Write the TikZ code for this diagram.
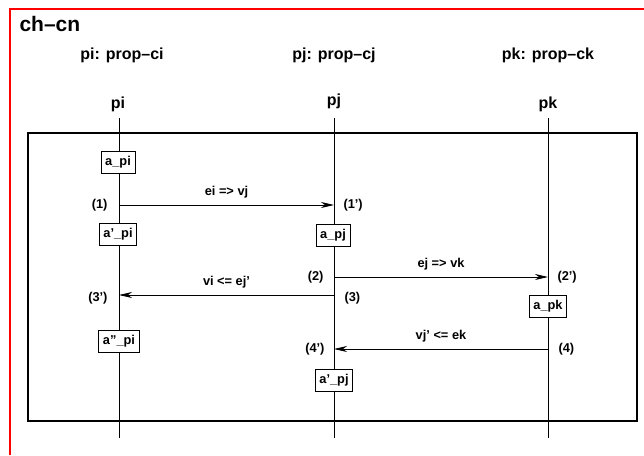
\documentclass[tikz,border=0pt]{standalone}
\usepackage{fontspec}
\setmainfont{Liberation Sans}
\usetikzlibrary{arrows.meta}
\begin{document}
\begin{tikzpicture}[x=1pt,y=-1pt,
  every node/.style={font=\bfseries},
  title/.style={font=\fontsize{21}{24}\selectfont\bfseries, anchor=west},
  header/.style={font=\fontsize{16}{18}\selectfont\bfseries},
  lbl/.style={font=\fontsize{12.8}{14}\selectfont\bfseries},
  actbox/.style={draw, fill=white, line width=0.8pt, inner xsep=4.2pt, inner ysep=3pt,
    minimum height=22pt, font=\fontsize{12.8}{14}\selectfont\bfseries},
  lifeline/.style={line width=0.8pt},
  msg/.style={line width=0.8pt, -{Stealth[length=13pt,width=6pt,inset=4pt]}},
  frame/.style={line width=2.5pt},
  outer/.style={red, line width=2pt}]
\useasboundingbox (0,0) rectangle (644,455);

% outer red frame (open on the right and bottom)
\draw[outer] (10,455) -- (10,9) -- (646,9);
\node[title] (ttl) at (16,24) {ch–cn};

% process headers
\node[header] (hi) at (122,55) {pi: prop–ci};
\node[header] (hj) at (334,55) {pj: prop–cj};
\node[header] (hk) at (548,55) {pk: prop–ck};
\node[header] (ni) at (118,104) {pi};
\node[header] (nj) at (334,101) {pj};
\node[header] (nk) at (548,104) {pk};

% lifelines
\coordinate (ti) at (119,118); \coordinate (bi) at (119,438);
\coordinate (tj) at (334,118); \coordinate (bj) at (334,438);
\coordinate (tk) at (548,118); \coordinate (bk) at (548,438);
\draw[lifeline] (ti) -- (bi);
\draw[lifeline] (tj) -- (bj);
\draw[lifeline] (tk) -- (bk);

% enclosing frame
\draw[frame] (28,133) rectangle (637,421);

% activity boxes
\node[actbox] (api)  at (118,162.5) {a\_pi};
\node[actbox] (ap2i) at (118,234) {a’\_pi};
\node[actbox] (apj)  at (333,235) {a\_pj};
\node[actbox] (apk)  at (548,306.5) {a\_pk};
\node[actbox] (ap3i) at (119,341) {a”\_pi};
\node[actbox] (ap2j) at (334,380) {a’\_pj};

% message end points on the lifelines
\coordinate (m1s) at (119,205); \coordinate (m1e) at (334,205);
\coordinate (m2s) at (334,277); \coordinate (m2e) at (548,277);
\coordinate (m3s) at (334,295); \coordinate (m3e) at (119,295);
\coordinate (m4s) at (548,349); \coordinate (m4e) at (334,349);

% messages
\draw[msg] (m1s) -- node[lbl, above=3pt] {ei => vj} (m1e);
\draw[msg] (m2s) -- node[lbl, above=3pt] {ej => vk} (m2e);
\draw[msg] (m3s) -- node[lbl, above=3pt] {vi <= ej’} (m3e);
\draw[msg] (m4s) -- node[lbl, above=3pt] {vj’ <= ek} (m4e);

% event numbers
\node[lbl, anchor=east] (e1)  at ([xshift=-8pt]m1s) {(1)};
\node[lbl, anchor=west] (e1p) at ([xshift=6pt]m1e) {(1’)};
\node[lbl, anchor=east] (e2)  at ([xshift=-7pt]m2s) {(2)};
\node[lbl, anchor=west] (e2p) at ([xshift=6pt]m2e) {(2’)};
\node[lbl, anchor=west] (e3)  at ([xshift=7pt,yshift=-3pt]m3s) {(3)};
\node[lbl, anchor=east] (e3p) at ([xshift=-8pt,yshift=-3pt]m3e) {(3’)};
\node[lbl, anchor=west] (e4)  at ([xshift=7pt]m4s) {(4)};
\node[lbl, anchor=east] (e4p) at ([xshift=-6pt]m4e) {(4’)};
\end{tikzpicture}
\end{document}
